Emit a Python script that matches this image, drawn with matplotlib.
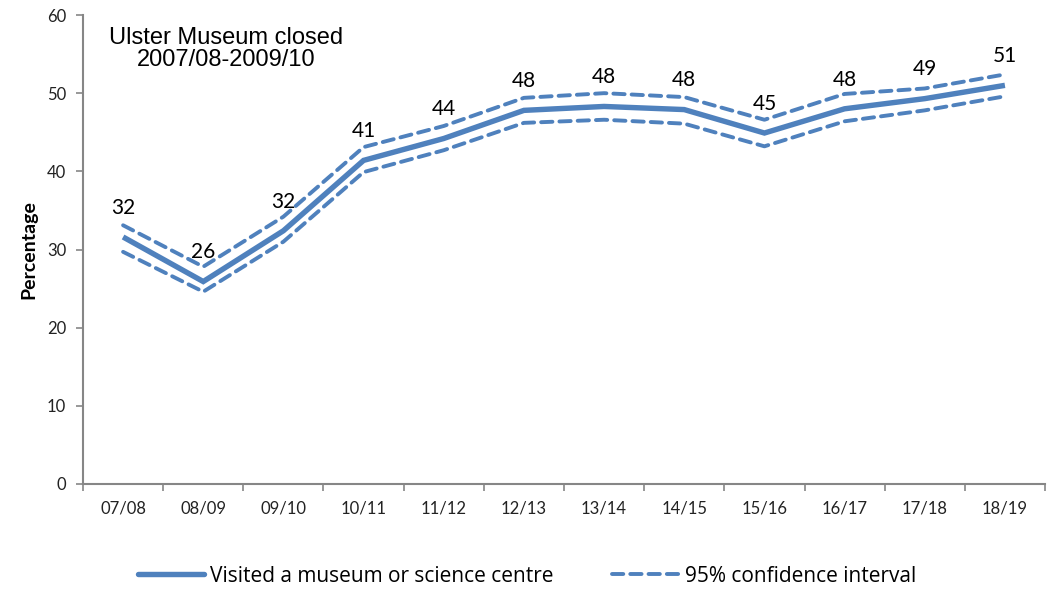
import matplotlib
matplotlib.use("Agg")
import matplotlib.pyplot as plt
from matplotlib.lines import Line2D

years = ["07/08", "08/09", "09/10", "10/11", "11/12", "12/13",
         "13/14", "14/15", "15/16", "16/17", "17/18", "18/19"]
visited = [31.6, 25.9, 32.4, 41.4, 44.2, 47.8, 48.3, 47.9, 44.9, 48.0, 49.3, 51.0]
ci_upper = [33.1, 27.8, 34.2, 43.1, 45.8, 49.4, 50.0, 49.5, 46.6, 49.9, 50.6, 52.4]
ci_lower = [29.7, 24.6, 31.0, 39.9, 42.7, 46.2, 46.6, 46.1, 43.2, 46.4, 47.8, 49.6]
y_ticks = [0, 10, 20, 30, 40, 50, 60]

blue = "#4F81BD"
axis_grey = "#868686"
label_font = "Lato"

fig = plt.figure(figsize=(10.54, 5.89), dpi=100)
ax = fig.add_axes([83 / 1054, 1 - 484 / 589, 962 / 1054, 469 / 589])

x = list(range(len(years)))
dash = (2.9, 1.8)
ax.plot(x, ci_upper, color=blue, lw=2.8, linestyle=(0, dash), dash_capstyle="round")
ax.plot(x, ci_lower, color=blue, lw=2.8, linestyle=(0, dash), dash_capstyle="round")
ax.plot(x, visited, color=blue, lw=3.9, solid_capstyle="butt", solid_joinstyle="miter")

for xi, v in zip(x, visited):
    ax.annotate(f"{round(v):d}", (xi, v), xytext=(0, 21), textcoords="offset points",
                ha="center", va="center", fontsize=15, family=label_font, color="black")

ax.set_xlim(-0.5, len(years) - 0.5)
ax.set_ylim(0, 60)
ax.set_yticks(y_ticks)
ax.set_yticklabels([str(t) for t in y_ticks], fontsize=12, family=label_font, color="#222222")
ax.set_xticks(x)
ax.set_xticklabels(years, fontsize=12, family=label_font, color="#222222")
ax.set_xticks([i - 0.5 for i in range(len(years) + 1)], minor=True)
ax.tick_params(axis="x", which="major", length=0, pad=12)
ax.tick_params(axis="x", which="minor", length=5, width=1.2, color=axis_grey, direction="out")
ax.tick_params(axis="y", length=5, width=1.2, color=axis_grey, direction="out", pad=7)

for side in ("top", "right"):
    ax.spines[side].set_visible(False)
for side in ("left", "bottom"):
    ax.spines[side].set_color(axis_grey)
    ax.spines[side].set_linewidth(1.5)

ax.set_ylabel("Percentage", fontsize=14, fontweight="bold", family=label_font, labelpad=7)

ax.text(0.149, 0.975, "Ulster Museum closed\n2007/08-2009/10", transform=ax.transAxes,
        ha="center", va="top", fontsize=17, family="Liberation Sans", linespacing=1.0)

handles = [
    Line2D([], [], color=blue, lw=3.9, solid_capstyle="round"),
    Line2D([], [], color=blue, lw=2.8, linestyle=(0, dash), dash_capstyle="round"),
]
fig.legend(handles, ["Visited a museum or science centre", "95% confidence interval"],
           loc="center", bbox_to_anchor=(0.5, 1 - 576 / 589), ncol=2, frameon=False,
           prop={"family": "Open Sans", "size": 15}, handlelength=3.2, handletextpad=0.3,
           columnspacing=2.8)

fig.savefig("out.png", dpi=100, facecolor="white")
